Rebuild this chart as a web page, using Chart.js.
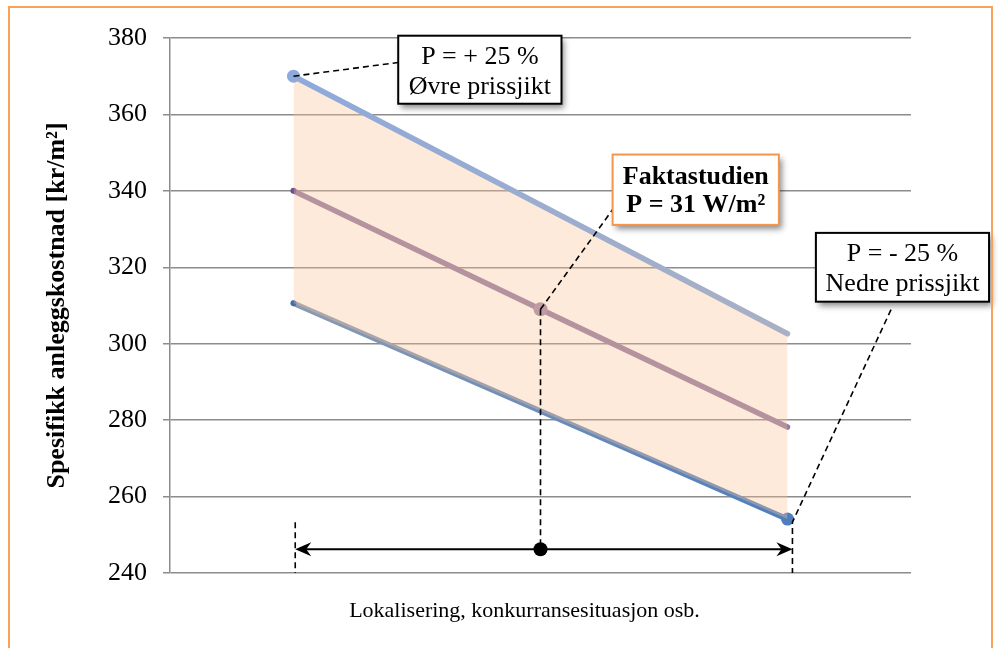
<!DOCTYPE html>
<html><head><meta charset="utf-8">
<script src="https://cdn.jsdelivr.net/npm/chart.js@4"></script>
<style>html,body{margin:0;padding:0;background:#fff}#wrap{width:998px;height:648px;position:relative}</style>
</head><body><div id="wrap"><canvas id="c" width="998" height="648"></canvas></div>
<script>
// ---- data ----
const categories = ['1', '2', '3'];
const upperSeries  = [370.0, 336.3, 302.6];   // P = +25 % (Øvre prissjikt)
const middleSeries = [340.0, 309.0, 278.2];   // Faktastudien, P = 31 W/m²
const lowerSeries  = [310.6, 282.4, 254.1];   // P = -25 % (Nedre prissjikt)
const yMin = 240, yMax = 380, yStep = 20;
const yTitle = 'Spesifikk anleggskostnad [kr/m²]';
const xTitle = 'Lokalisering, konkurransesituasjon osb.';
const upperNote = ['P = + 25 %', 'Øvre prissjikt'];
const middleNote = ['Faktastudien', 'P = 31 W/m²'];
const lowerNote = ['P = - 25 %', 'Nedre prissjikt'];
const arrowLevel = 246.2;

const SERIF = '"Liberation Serif", "Times New Roman", serif';

function grad(ctx, c1, c2) {
  const ch = ctx.chart, a = ch.chartArea;
  if (!a) return c1;
  const g = ch.ctx.createLinearGradient(ch.scales.x.getPixelForValue(0), 0, ch.scales.x.getPixelForValue(2), 0);
  g.addColorStop(0, c1); g.addColorStop(1, c2);
  return g;
}

const annot = {
  id: 'annot',
  beforeDraw(chart) {
    const c = chart.ctx;
    c.save(); c.fillStyle = '#fff'; c.fillRect(0, 0, chart.width, chart.height); c.restore();
  },
  afterDatasetsDraw(chart) {
    const c = chart.ctx, xs = chart.scales.x, ys = chart.scales.y;
    const X = v => xs.getPixelForValue(v), Y = v => ys.getPixelForValue(v);
    c.save();
    // dashed leaders
    c.strokeStyle = '#000'; c.lineWidth = 1.6; c.setLineDash([6, 4]);
    const dash = pts => { c.beginPath(); c.moveTo(pts[0][0], pts[0][1]); for (let i = 1; i < pts.length; i++) c.lineTo(pts[i][0], pts[i][1]); c.stroke(); };
    dash([[X(0), Y(upperSeries[0])], [X(0.424), Y(373.6)]]);
    dash([[X(1), Y(middleSeries[1])], [X(1.292), Y(335.1)]]);
    dash([[X(1), Y(middleSeries[1])], [X(1), Y(arrowLevel)]]);
    dash([[X(2.419), Y(308.9)], [X(2.02), Y(253.3)], [X(2.02), Y(yMin)]]);
    dash([[X(0.007), Y(253.3)], [X(0.007), Y(yMin)]]);
    c.setLineDash([]);
    // double arrow
    const ay = Y(arrowLevel), ax1 = X(0.007), ax2 = X(2.02);
    c.lineWidth = 2; c.beginPath(); c.moveTo(ax1 + 8, ay); c.lineTo(ax2 - 8, ay); c.stroke();
    c.fillStyle = '#000';
    c.beginPath(); c.moveTo(ax1, ay); c.lineTo(ax1 + 16, ay - 7); c.lineTo(ax1 + 11, ay); c.lineTo(ax1 + 16, ay + 7); c.closePath(); c.fill();
    c.beginPath(); c.moveTo(ax2, ay); c.lineTo(ax2 - 16, ay - 7); c.lineTo(ax2 - 11, ay); c.lineTo(ax2 - 16, ay + 7); c.closePath(); c.fill();
    c.beginPath(); c.arc(X(1), ay, 7, 0, Math.PI * 2); c.fill();
    // boxes
    const box = (l, r, t, b, lines, border, bold, lh) => {
      const x0 = X(l), x1 = X(r), y0 = Y(t), y1 = Y(b);
      c.save();
      c.shadowColor = 'rgba(0,0,0,0.45)'; c.shadowBlur = 6; c.shadowOffsetX = 3; c.shadowOffsetY = 4;
      c.fillStyle = '#fff'; c.fillRect(x0, y0, x1 - x0, y1 - y0);
      c.restore();
      c.strokeStyle = border; c.lineWidth = 2; c.strokeRect(x0, y0, x1 - x0, y1 - y0);
      c.fillStyle = '#000'; c.textAlign = 'center'; c.textBaseline = 'middle';
      c.font = (bold ? 'bold ' : '') + '26px ' + SERIF;
      const cx = (x0 + x1) / 2, cy = (y0 + y1) / 2 + 2;
      lines.forEach((s, i) => c.fillText(s, cx, cy + (i - (lines.length - 1) / 2) * lh));
    };
    box(0.424, 1.085, 380.6, 362.8, upperNote, '#000', false, 30);
    box(1.292, 1.965, 349.5, 331.1, middleNote, '#F79646', true, 28);
    box(2.115, 2.816, 329.0, 311.0, lowerNote, '#000', false, 30);
    // x axis title
    c.fillStyle = '#000'; c.textAlign = 'center'; c.textBaseline = 'middle';
    c.font = '22px ' + SERIF;
    c.fillText(xTitle, X(1) - 16, chart.chartArea.bottom + 38);
    c.restore();
  },
  afterDraw(chart) {
    const c = chart.ctx;
    c.save(); c.strokeStyle = '#F9A25A'; c.lineWidth = 2;
    c.strokeRect(9, 7, 983, 660); c.restore();
  }
};

new Chart(document.getElementById('c'), {
  type: 'line',
  data: {
    labels: categories,
    datasets: [
      { label: 'Øvre prissjikt', data: upperSeries, borderWidth: 5.5, borderCapStyle: 'round',
        borderColor: ctx => grad(ctx, '#8EA9DB', '#A9B0C3'),
        fill: 2, backgroundColor: 'rgba(249,196,153,0.35)',
        pointRadius: [6.5, 0, 0], pointBackgroundColor: '#8EA9DB', pointBorderWidth: 0 },
      { label: 'Faktastudien', data: middleSeries, borderWidth: 5.5, borderCapStyle: 'round',
        borderColor: '#8F7AA2', fill: false,
        pointRadius: [3, 7, 0], pointBackgroundColor: ['#6B4E8E', '#A088A8', '#8F7AA2'], pointBorderWidth: 0 },
      { label: 'Nedre prissjikt', data: lowerSeries, borderWidth: 5.5, borderCapStyle: 'round',
        borderColor: ctx => grad(ctx, '#8A9AB2', '#4F7EBD'), fill: false,
        pointRadius: [3, 0, 6.5], pointBackgroundColor: ['#3F6FAF', '#4F7EBD', '#4F7EBD'], pointBorderWidth: 0 }
    ]
  },
  options: {
    responsive: false, animation: false, events: [],
    layout: { padding: { left: 0, right: 87, top: 38, bottom: 0 } },
    plugins: { legend: { display: false }, tooltip: { enabled: false } },
    scales: {
      x: {
        type: 'category', offset: true,
        grid: { display: false }, border: { display: false },
        ticks: { display: false },
        title: { display: false, text: xTitle },
        afterFit(s) { s.height = 75; }
      },
      y: {
        min: yMin, max: yMax,
        ticks: { stepSize: yStep, color: '#000', font: { family: SERIF, size: 26 }, padding: 16 },
        grid: { color: '#8c8c8c', lineWidth: 1.5, tickLength: 7, drawTicks: true },
        border: { color: '#8c8c8c', width: 1.5 },
        title: { display: true, text: yTitle, color: '#000', font: { family: SERIF, size: 26, weight: 'bold' }, padding: { top: 42, bottom: 0 } },
        afterFit(s) { s.width = 170; }
      }
    }
  },
  plugins: [annot]
});
</script></body></html>
